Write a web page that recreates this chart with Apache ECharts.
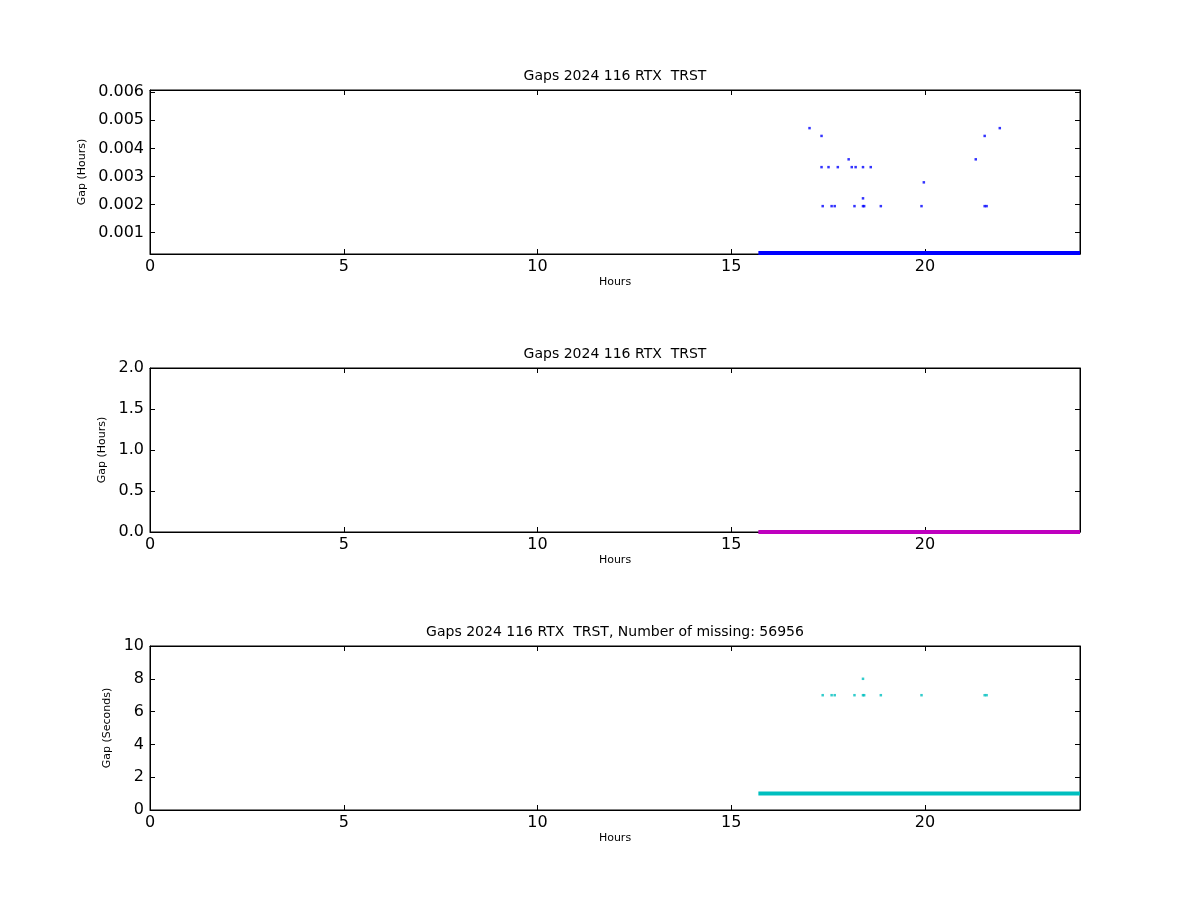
<!DOCTYPE html>
<html><head><meta charset="utf-8">
<script src="https://cdn.jsdelivr.net/npm/echarts@6/dist/echarts.min.js"></script>
<style>html,body{margin:0;padding:0;background:#fff}#c{width:1200px;height:900px}</style>
</head><body><div id="c"></div>
<script>
// ---- data ----
const titleText = 'Gaps 2024 116 RTX  TRST';
const titleText3 = 'Gaps 2024 116 RTX  TRST, Number of missing: 56956';
const xTicks = [0, 5, 10, 15, 20];
const yTicksTop = [0.001, 0.002, 0.003, 0.004, 0.005, 0.006];
const yTicksMid = [0, 0.5, 1.0, 1.5, 2.0];
const yTicksBot = [0, 2, 4, 6, 8, 10];
// continuous run of 1-second samples (start hour, end hour, gap seconds)
const baseStart = 15.7, baseEnd = 24, baseGapSec = 1;
// individual larger gaps: hour of day, gap in seconds
const gapHours = [17.02, 17.33, 17.33, 17.51, 17.75, 18.11, 18.21, 18.40, 18.60, 18.03,
  17.36, 17.59, 17.67, 18.18, 18.40, 18.43, 18.86, 19.91, 21.54, 21.59,
  18.40, 19.97, 21.31, 21.54, 21.93];
const gapSeconds = [17, 16, 12, 12, 12, 12, 12, 12, 12, 13,
  7, 7, 7, 7, 7, 7, 7, 7, 7, 7,
  8, 10.05, 13, 16, 17];

// ---- build ----
const FONT = 'DejaVu Sans';
const basePairs = [[baseStart, baseGapSec], [baseEnd, baseGapSec]];
const toHours = s => s / 3600;
const ptsSec = gapHours.map((h, i) => [h, gapSeconds[i]]);
const ptsHr = gapHours.map((h, i) => [h, toHours(gapSeconds[i])]);
const baseHr = basePairs.map(p => [p[0], toHours(p[1])]);

const tops = [90, 368, 646];
const grids = tops.map(t => ({left: 150, top: t, width: 930, height: 164, show: true, borderColor: '#000', borderWidth: 1, backgroundColor: '#fff'}));
const lineStyle = {show: true, onZero: false, lineStyle: {color: '#000', width: 1}};
const tickIn = {show: true, inside: true, length: 5, lineStyle: {color: '#000'}};

const xAxes = [], yAxes = [];
const yDefs = [
  {min: 0.00024, max: 0.00608, ticks: yTicksTop, fmt: v => v.toFixed(3), name: 'Gap (Hours)', gap: 57},
  {min: 0, max: 2, ticks: yTicksMid, fmt: v => v.toFixed(1), name: 'Gap (Hours)', gap: 34},
  {min: 0, max: 10, ticks: yTicksBot, fmt: v => String(v), name: 'Gap (Seconds)', gap: 27}
];
for (let i = 0; i < 3; i++) {
  xAxes.push({type: 'value', gridIndex: i, position: 'bottom', min: 0, max: 24,
    name: 'Hours', nameLocation: 'middle', nameGap: 23,
    nameTextStyle: {fontFamily: FONT, fontSize: 11, color: '#000'},
    axisLine: lineStyle, splitLine: {show: false},
    axisTick: Object.assign({customValues: xTicks}, tickIn),
    axisLabel: {customValues: xTicks, fontFamily: FONT, fontSize: 16, color: '#000', margin: 5}});
  xAxes.push({type: 'value', gridIndex: i, position: 'top', min: 0, max: 24,
    axisLine: lineStyle, splitLine: {show: false},
    axisTick: Object.assign({customValues: xTicks}, tickIn), axisLabel: {show: false}});
  const d = yDefs[i];
  yAxes.push({type: 'value', gridIndex: i, position: 'left', min: d.min, max: d.max,
    name: d.name, nameLocation: 'middle', nameGap: d.gap, nameRotate: 90,
    nameTextStyle: {fontFamily: FONT, fontSize: 11, color: '#000'},
    axisLine: lineStyle, splitLine: {show: false},
    axisTick: Object.assign({customValues: d.ticks}, tickIn),
    axisLabel: {customValues: d.ticks, formatter: d.fmt, fontFamily: FONT, fontSize: 16, color: '#000', margin: 6}});
  yAxes.push({type: 'value', gridIndex: i, position: 'right', min: d.min, max: d.max,
    axisLine: lineStyle, splitLine: {show: false},
    axisTick: Object.assign({customValues: d.ticks}, tickIn), axisLabel: {show: false}});
}

const colors = ['#0000ff', '#bf00bf', '#00bfbf'];
const series = [];
const bases = [baseHr, baseHr, basePairs];
const pts = [ptsHr, ptsHr, ptsSec];
for (let i = 0; i < 3; i++) {
  series.push({type: 'line', xAxisIndex: 2 * i, yAxisIndex: 2 * i, data: bases[i], showSymbol: false,
    symbol: 'none', clip: true, silent: true, animation: false,
    lineStyle: {color: colors[i], width: 4}});
  series.push({type: 'scatter', xAxisIndex: 2 * i, yAxisIndex: 2 * i, data: pts[i], symbol: 'rect',
    symbolSize: 2.5, clip: true, animation: false, itemStyle: {color: colors[i]}});
}

const titles = [titleText, titleText, titleText3].map((t, i) => ({
  text: t, left: 615, textAlign: 'center', top: tops[i] - 21, padding: 0,
  textStyle: {fontFamily: FONT, fontSize: 14, fontWeight: 'normal', color: '#000'}
}));

const chart = echarts.init(document.getElementById('c'), null, {renderer: 'canvas'});
chart.setOption({
  backgroundColor: '#fff', animation: false,
  title: titles, grid: grids, xAxis: xAxes, yAxis: yAxes, series: series
});
</script></body></html>
